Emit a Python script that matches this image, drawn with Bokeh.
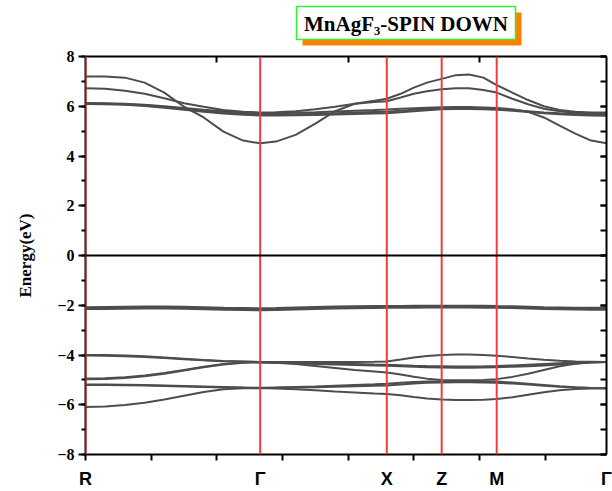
from bokeh.plotting import figure
from bokeh.layouts import column
from bokeh.models import (Range1d, LinearAxis, FixedTicker, SingleIntervalTicker,
                          Span, CustomJSTickFormatter)
from bokeh.embed import file_html
from bokeh.resources import INLINE

# ---------------- data ----------------
title_text = "MnAgF\u2083-SPIN DOWN"
y_title = "Energy(eV)"
k_labels = ["R", "\u0393", "X", "Z", "M", "\u0393"]
k_nodes = [0.0, 1.33, 2.294, 2.712, 3.131, 3.967]
x_minor = [0.0, 0.5, 1.0, 1.5, 2.0, 2.5, 3.0, 3.5]

k = [0.0, 0.15, 0.3, 0.45, 0.6, 0.75, 0.9, 1.05, 1.2, 1.33,
     1.45, 1.6, 1.75, 1.9, 2.05, 2.2, 2.294,
     2.4, 2.5, 2.6, 2.712,
     2.82, 2.92, 3.03, 3.131,
     3.25, 3.37, 3.49, 3.61, 3.73, 3.85, 3.967]

# conduction bands
c1 = [7.2, 7.2, 7.15, 6.95, 6.55, 5.98, 5.55, 4.98, 4.62, 4.51,
      4.58, 4.85, 5.3, 5.8, 6.1, 6.22, 6.3,
      6.5, 6.75, 6.95, 7.1,
      7.25, 7.28, 7.15, 6.85,
      6.55, 6.25, 6.0, 5.85, 5.78, 5.75, 5.75]
c2 = [6.72, 6.7, 6.62, 6.5, 6.32, 6.12, 5.98, 5.85, 5.78, 5.75,
      5.76, 5.8, 5.88, 5.98, 6.1, 6.17, 6.2,
      6.35, 6.5, 6.6, 6.68,
      6.72, 6.72, 6.65, 6.55,
      6.3, 6.08, 5.9, 5.8, 5.74, 5.71, 5.7]
c3 = [6.13, 6.12, 6.1, 6.06, 6.0, 5.93, 5.86, 5.8, 5.75, 5.72,
      5.72, 5.74, 5.76, 5.79, 5.82, 5.85, 5.87,
      5.9, 5.92, 5.94, 5.96,
      5.97, 5.97, 5.95, 5.93,
      5.88, 5.78, 5.55, 5.22, 4.9, 4.62, 4.51]
c4 = [6.11, 6.1, 6.08, 6.04, 5.97, 5.9, 5.82, 5.75, 5.7, 5.67,
      5.67, 5.68, 5.7, 5.72, 5.75, 5.77, 5.78,
      5.82, 5.86, 5.89, 5.92,
      5.93, 5.93, 5.91, 5.89,
      5.85, 5.8, 5.75, 5.72, 5.7, 5.68, 5.67]
c5 = [6.09, 6.08, 6.06, 6.01, 5.94, 5.86, 5.78, 5.71, 5.66, 5.63,
      5.63, 5.64, 5.65, 5.67, 5.69, 5.71, 5.72,
      5.76, 5.8, 5.84, 5.88,
      5.89, 5.89, 5.88, 5.86,
      5.82, 5.77, 5.72, 5.68, 5.65, 5.63, 5.62]

# valence bands
v1 = [-2.08, -2.07, -2.06, -2.05, -2.05, -2.06, -2.08, -2.1, -2.11, -2.12,
      -2.11, -2.09, -2.07, -2.05, -2.04, -2.03, -2.03,
      -2.03, -2.02, -2.02, -2.02,
      -2.02, -2.02, -2.02, -2.03,
      -2.04, -2.06, -2.08, -2.09, -2.1, -2.1, -2.1]
v2 = [-2.12, -2.11, -2.1, -2.09, -2.09, -2.1, -2.12, -2.14, -2.15, -2.16,
      -2.15, -2.13, -2.11, -2.09, -2.08, -2.07, -2.07,
      -2.07, -2.06, -2.06, -2.06,
      -2.06, -2.06, -2.06, -2.07,
      -2.08, -2.1, -2.12, -2.13, -2.14, -2.14, -2.14]
v3 = [-2.15, -2.15, -2.14, -2.13, -2.13, -2.14, -2.16, -2.18, -2.19, -2.2,
      -2.19, -2.17, -2.15, -2.13, -2.12, -2.11, -2.1,
      -2.1, -2.1, -2.09, -2.09,
      -2.09, -2.09, -2.1, -2.1,
      -2.11, -2.13, -2.15, -2.16, -2.17, -2.18, -2.18]
v4 = [-4.0, -4.0, -4.02, -4.05, -4.1, -4.15, -4.2, -4.24, -4.26, -4.28,
      -4.28, -4.28, -4.28, -4.28, -4.28, -4.27, -4.26,
      -4.18, -4.1, -4.04, -4.0,
      -3.98, -3.98, -4.0, -4.03,
      -4.08, -4.14, -4.19, -4.23, -4.26, -4.27, -4.28]
v5 = [-4.02, -4.03, -4.05, -4.08, -4.12, -4.17, -4.21, -4.25, -4.27, -4.29,
      -4.3, -4.31, -4.32, -4.34, -4.36, -4.38, -4.39,
      -4.41, -4.43, -4.44, -4.45,
      -4.46, -4.46, -4.45, -4.44,
      -4.42, -4.39, -4.36, -4.33, -4.3, -4.29, -4.28]
v6 = [-4.94, -4.93, -4.89, -4.82, -4.72, -4.6, -4.47, -4.36, -4.3, -4.29,
      -4.31, -4.33, -4.36, -4.38, -4.4, -4.42, -4.43,
      -4.45, -4.47, -4.49, -4.5,
      -4.51, -4.51, -4.5, -4.49,
      -4.47, -4.45, -4.42, -4.38, -4.34, -4.3, -4.28]
v7 = [-4.97, -4.96, -4.92, -4.85, -4.75, -4.62, -4.49, -4.38, -4.31, -4.29,
      -4.31, -4.36, -4.44, -4.52, -4.6, -4.66, -4.7,
      -4.78, -4.87, -4.95, -5.0,
      -5.02, -5.02, -5.0, -4.97,
      -4.88, -4.75, -4.6, -4.45, -4.35, -4.29, -4.28]
v8 = [-5.19, -5.19, -5.2, -5.21, -5.23, -5.25, -5.27, -5.29, -5.31, -5.32,
      -5.31, -5.29, -5.27, -5.24, -5.21, -5.18, -5.16,
      -5.12, -5.09, -5.07, -5.06,
      -5.05, -5.05, -5.06, -5.07,
      -5.11, -5.16, -5.21, -5.26, -5.3, -5.33, -5.34]
v9 = [-5.21, -5.21, -5.22, -5.23, -5.25, -5.27, -5.29, -5.31, -5.32, -5.33,
      -5.32, -5.31, -5.3, -5.28, -5.26, -5.24, -5.23,
      -5.19, -5.15, -5.12, -5.11,
      -5.1, -5.1, -5.11, -5.12,
      -5.15, -5.19, -5.24, -5.28, -5.31, -5.33, -5.34]
v10 = [-6.09, -6.07, -6.01, -5.92, -5.79, -5.64, -5.49, -5.38, -5.34, -5.33,
       -5.35, -5.38, -5.42, -5.47, -5.51, -5.55, -5.57,
       -5.62, -5.69, -5.75, -5.79,
       -5.81, -5.81, -5.8, -5.77,
       -5.7, -5.6, -5.5, -5.42, -5.37, -5.35, -5.34]

bands = [c1, c2, c3, c4, c5, v1, v2, v3, v4, v5, v6, v7, v8, v9, v10]

# ---------------- styles ----------------
SERIF = "Liberation Serif"
SANS = "Liberation Sans"
RED = "#ef3d3d"
BAND = "#4d4d4d"
W = 612
HEAD_H = 46
LEFT, RIGHT = 85, 606   # frame edges in page pixels (column aligns the frames)

# ---------------- header (title box with shadow) ----------------
head = figure(width=W, height=HEAD_H, x_range=Range1d(LEFT, RIGHT), y_range=Range1d(HEAD_H, 0),
              output_backend="svg", toolbar_location=None,
              x_axis_location=None, y_axis_location=None,
              min_border=0, min_border_left=0, min_border_right=0,
              min_border_top=0, min_border_bottom=0)
head.outline_line_color = None
head.xgrid.visible = False
head.ygrid.visible = False
head.quad(left=302, right=521, top=12, bottom=45, fill_color="#ff8000", line_color=None)
head.quad(left=296, right=515, top=6, bottom=39, fill_color="white",
          line_color="#33ee33", line_width=1.5)
head.text(x=[405.5], y=[23], text=[title_text], text_align="center", text_baseline="middle",
          text_font=SERIF, text_font_style="bold", text_font_size="21px", text_color="black")

# ---------------- main plot ----------------
p = figure(width=W, height=491 - HEAD_H, x_range=Range1d(0, k_nodes[-1]), y_range=Range1d(-8, 8),
           output_backend="svg", toolbar_location=None,
           min_border_left=LEFT, min_border_right=W - RIGHT, min_border_top=10, min_border_bottom=35)
p.outline_line_color = None
p.xgrid.visible = False
p.ygrid.visible = False

p.multi_line(xs=[k] * len(bands), ys=bands, line_color=BAND, line_width=2)

for kn in k_nodes[:-1]:
    p.add_layout(Span(location=kn, dimension="height", line_color=RED, line_width=2))
p.add_layout(Span(location=0, dimension="width", line_color="black", line_width=2))

# bottom axis: k-point labels, regular tick marks as minor ticks
xa = p.xaxis[0]
xa.ticker = FixedTicker(ticks=k_nodes, minor_ticks=x_minor)
xa.major_label_overrides = {kv: lab for kv, lab in zip(k_nodes, k_labels)}
xa.major_tick_out = 0
xa.major_tick_in = 0
xa.minor_tick_out = 6
xa.minor_tick_in = 0
xa.minor_tick_line_width = 2
xa.minor_tick_line_color = "black"
xa.axis_line_width = 2
xa.axis_line_color = "black"
xa.major_label_standoff = 8
xa.major_label_text_font = SANS
xa.major_label_text_font_style = "bold"
xa.major_label_text_font_size = "18px"
xa.major_label_text_color = "black"

# left axis
ya = p.yaxis[0]
ya.ticker = SingleIntervalTicker(interval=2, num_minor_ticks=2)
ya.major_tick_out = 7
ya.major_tick_in = 0
ya.minor_tick_out = 4
ya.minor_tick_in = 0
ya.major_tick_line_width = 2
ya.minor_tick_line_width = 2
ya.axis_line_width = 2
ya.axis_line_color = "black"
ya.major_tick_line_color = "black"
ya.minor_tick_line_color = "black"
ya.major_label_standoff = 4
ya.major_label_text_font = SERIF
ya.major_label_text_font_style = "bold"
ya.major_label_text_font_size = "16px"
ya.major_label_text_color = "black"
ya.axis_label = y_title
ya.axis_label_text_font = SERIF
ya.axis_label_text_font_style = "bold"
ya.axis_label_text_font_size = "17px"
ya.axis_label_text_color = "black"
ya.axis_label_standoff = 19

blank = CustomJSTickFormatter(code="return ''")

# right axis: inward ticks, no labels
ra = LinearAxis(ticker=SingleIntervalTicker(interval=2, num_minor_ticks=2), formatter=blank,
                major_tick_in=6, major_tick_out=0, minor_tick_in=6, minor_tick_out=0,
                major_tick_line_width=2, minor_tick_line_width=2,
                axis_line_width=2, axis_line_color="black", major_label_standoff=0,
                major_label_text_font_size="1px")
p.add_layout(ra, "right")

# top axis: inward major ticks only
ta = LinearAxis(ticker=FixedTicker(ticks=[1, 2, 3], minor_ticks=[]), formatter=blank,
                major_tick_in=6, major_tick_out=0, minor_tick_in=0, minor_tick_out=0,
                major_tick_line_width=2, axis_line_width=2, axis_line_color="black",
                major_label_standoff=0, major_label_text_font_size="1px")
p.add_layout(ta, "above")

layout = column(head, p, spacing=0)
open("out.html", "w").write(file_html(layout, INLINE))
